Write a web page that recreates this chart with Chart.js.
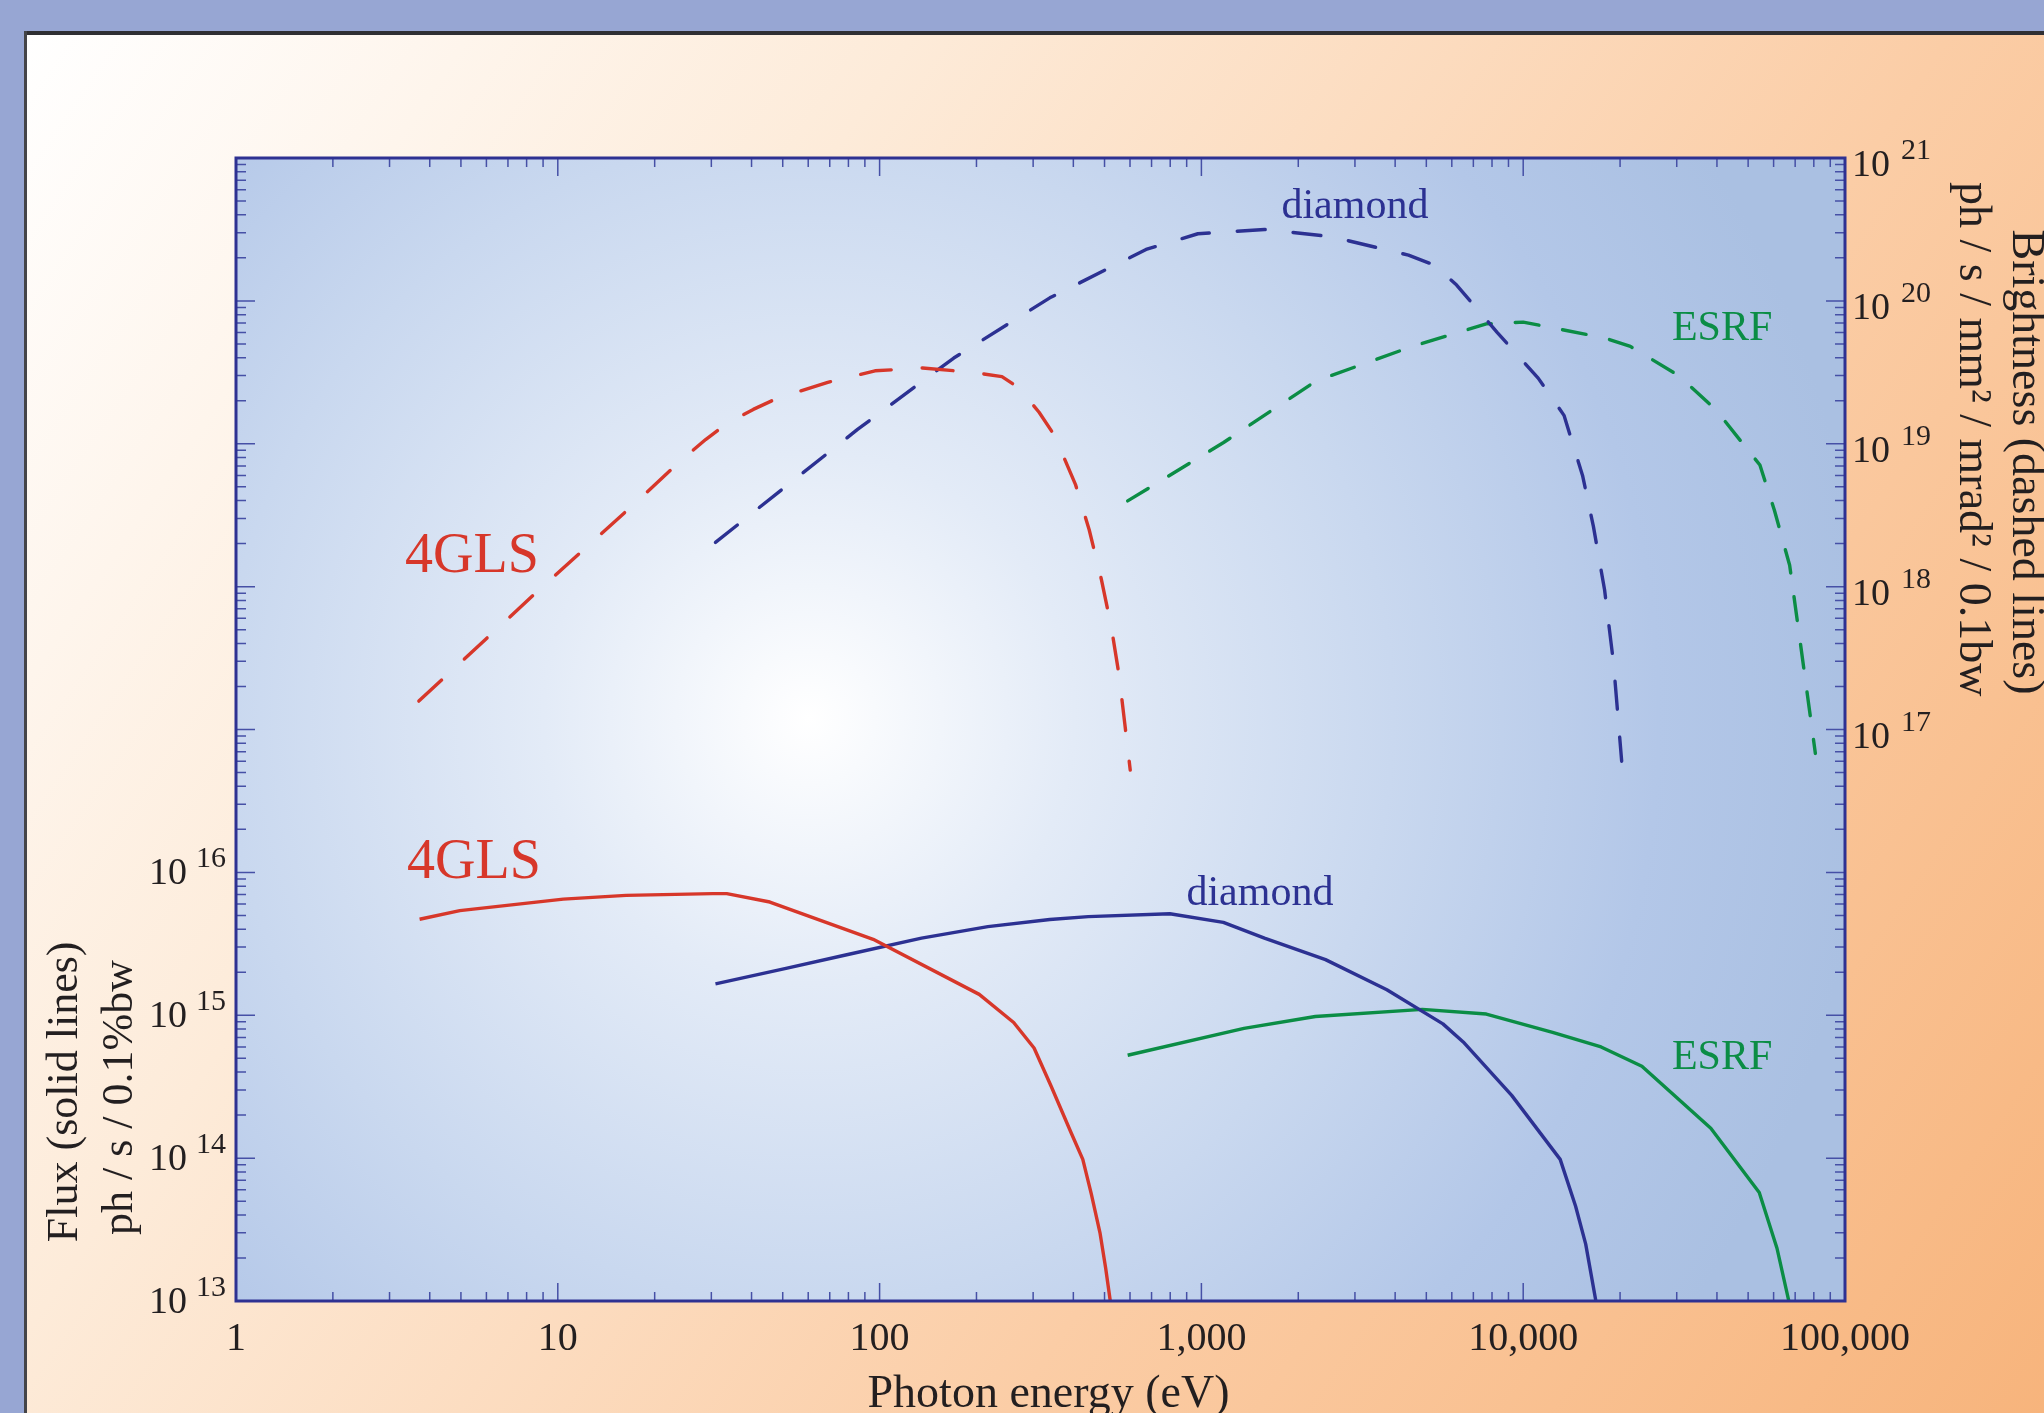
<!DOCTYPE html>
<html>
<head>
<meta charset="utf-8">
<script src="https://cdn.jsdelivr.net/npm/chart.js@4.4.1/dist/chart.umd.min.js"></script>
<style>
  html, body { margin: 0; padding: 0; background: #97a6d3; }
  canvas { display: block; }
</style>
</head>
<body>
<canvas id="c" width="2044" height="1413"></canvas>
<script>
// ---------- DATA ----------
// Photon energy (eV) and values for each curve
const gls4FluxE   = [3.72, 4.96, 10.4, 16.3, 30.3, 33.5, 45.6, 95.5, 204, 261, 302, 341, 394, 428, 455, 484, 504, 521];
const gls4Flux    = [4.7e15, 5.4e15, 6.5e15, 6.9e15, 7.1e15, 7.1e15, 6.2e15, 3.4e15, 1.4e15, 8.9e14, 5.9e14, 3.2e14, 1.5e14, 9.8e13, 5.6e13, 3.0e13, 1.7e13, 1.0e13];

const diamondFluxE = [30.9, 51.6, 77.8, 135, 217, 338, 445, 798, 1170, 1570, 2430, 3770, 5630, 6510, 9210, 13030, 14550, 15640, 16820];
const diamondFlux  = [1.66e15, 2.14e15, 2.63e15, 3.47e15, 4.17e15, 4.68e15, 4.9e15, 5.13e15, 4.47e15, 3.47e15, 2.45e15, 1.51e15, 8.7e14, 6.5e14, 2.75e14, 9.8e13, 4.6e13, 2.5e13, 1.0e13];

const esrfFluxE = [590, 1356, 2260, 4860, 7680, 12340, 17460, 23380, 38280, 54140, 61470, 66900];
const esrfFlux  = [5.25e14, 8.1e14, 9.8e14, 1.1e15, 1.02e15, 7.6e14, 6.0e14, 4.4e14, 1.62e14, 5.75e13, 2.34e13, 1.0e13];

const gls4BrightE = [3.70, 6.24, 8.75, 12.3, 17.3, 24.4, 28.8, 33.9, 40.5, 48.3, 69, 96.8, 136, 194, 240, 272, 313, 349, 406, 448, 489, 525, 554, 578, 601];
const gls4Bright  = [1.58e17, 4.7e17, 9.5e17, 1.9e18, 3.8e18, 7.8e18, 1.07e19, 1.41e19, 1.74e19, 2.09e19, 2.69e19, 3.24e19, 3.39e19, 3.16e19, 2.95e19, 2.45e19, 1.66e19, 1.15e19, 5.2e18, 2.5e18, 1.12e18, 5.2e17, 2.45e17, 1.1e17, 5.2e16];

const diamondBrightE = [30.9, 85.4, 170, 338, 673, 975, 1570, 2525, 4400, 5300, 6210, 8310, 11130, 13390, 15290, 16530, 17900, 19090, 20230];
const diamondBright  = [2.04e18, 1.26e19, 3.98e19, 1.05e20, 2.29e20, 2.95e20, 3.16e20, 2.82e20, 2.09e20, 1.78e20, 1.29e20, 6.0e19, 2.88e19, 1.58e19, 6.0e18, 2.63e18, 9.5e17, 2.9e17, 6.0e16];

const esrfBrightE = [590, 1172, 2271, 4521, 7677, 10000, 17900, 21540, 30400, 39600, 54400, 60400, 67300, 72800, 80900];
const esrfBright  = [3.98e18, 1.02e19, 2.75e19, 4.8e19, 6.9e19, 7.1e19, 5.5e19, 4.8e19, 3.0e19, 1.74e19, 7.1e18, 3.4e18, 1.41e18, 3.9e17, 6.8e16];

// tick labels
const xTickValues = [1, 10, 100, 1000, 10000, 100000];
const xTickLabels = ['1', '10', '100', '1,000', '10,000', '100,000'];
const yLeftExps   = [13, 14, 15, 16];
const yRightExps  = [17, 18, 19, 20, 21];

// curve annotations: text and anchor (energy, value) in data units
const labelTexts  = ['4GLS', '4GLS', 'diamond', 'diamond', 'ESRF', 'ESRF'];
const labelEnergy = [5.41, 5.49, 3000, 1520, 41500, 41500];
const labelValue  = [1.26e18, 9.1e15, 3.8e20, 5.9e15, 5.3e19, 4.2e14];
// ---------- END DATA ----------

const RED = '#d7372a', BLUE = '#2c3192', GREEN = '#0b8d45';
const SERIF = '"Liberation Serif", "DejaVu Serif", serif';
const TXT = '#231f20';

function pts(xs, ys) { return xs.map((x, i) => ({ x: x, y: ys[i] })); }

const bgPlugin = {
  id: 'bg',
  beforeDraw(chart) {
    const { ctx, chartArea: a, width, height } = chart;
    ctx.save();
    ctx.fillStyle = '#97a6d3';
    ctx.fillRect(0, 0, width, height);
    const g = ctx.createLinearGradient(26, 33, width, height);
    g.addColorStop(0, '#ffffff');
    g.addColorStop(0.3, '#fdebd9');
    g.addColorStop(0.65, '#fbcda6');
    g.addColorStop(1, '#f7b47c');
    ctx.fillStyle = g;
    ctx.fillRect(26, 33, width - 26, height - 33);
    ctx.fillStyle = '#2f2f33';
    ctx.fillRect(24, 31, width - 24, 4);
    ctx.fillStyle = '#444448';
    ctx.fillRect(24, 31, 3, height - 31);
    // plot area radial gradient
    const w = a.right - a.left, h = a.bottom - a.top;
    const cx = a.left + w * 0.356, cy = a.top + h * 0.49;
    const rg = ctx.createRadialGradient(cx, cy, 0, cx, cy, w * 0.66);
    rg.addColorStop(0, '#ffffff');
    rg.addColorStop(0.25, '#e3ebf7');
    rg.addColorStop(0.55, '#c9d8ef');
    rg.addColorStop(0.8, '#b3c7e8');
    rg.addColorStop(1, '#aac0e2');
    ctx.fillStyle = rg;
    ctx.fillRect(a.left, a.top, w, h);
    ctx.restore();
  }
};

const axesPlugin = {
  id: 'axesDeco',
  afterDraw(chart) {
    const { ctx, chartArea: a } = chart;
    const xs = chart.scales.x, ys = chart.scales.y;
    ctx.save();
    // ticks (inward)
    ctx.strokeStyle = '#4650a6';
    ctx.lineWidth = 1.5;
    ctx.beginPath();
    for (let d = 0; d < xTickValues.length; d++) {
      const v = xTickValues[d];
      const px = xs.getPixelForValue(v);
      ctx.moveTo(px, a.bottom); ctx.lineTo(px, a.bottom - 18);
      ctx.moveTo(px, a.top); ctx.lineTo(px, a.top + 18);
      if (d < xTickValues.length - 1) {
        for (let m = 2; m <= 9; m++) {
          const p = xs.getPixelForValue(m * v);
          ctx.moveTo(p, a.bottom); ctx.lineTo(p, a.bottom - 9);
          ctx.moveTo(p, a.top); ctx.lineTo(p, a.top + 9);
        }
      }
    }
    const allExps = yLeftExps.concat(yRightExps);
    for (let i = 0; i < allExps.length; i++) {
      const v = Math.pow(10, allExps[i]);
      const py = ys.getPixelForValue(v);
      ctx.moveTo(a.left, py); ctx.lineTo(a.left + 19, py);
      ctx.moveTo(a.right, py); ctx.lineTo(a.right - 19, py);
      if (i < allExps.length - 1) {
        for (let m = 2; m <= 9; m++) {
          const p = ys.getPixelForValue(m * v);
          ctx.moveTo(a.left, p); ctx.lineTo(a.left + 10, p);
          ctx.moveTo(a.right, p); ctx.lineTo(a.right - 10, p);
        }
      }
    }
    ctx.stroke();
    // frame
    ctx.strokeStyle = '#2e3192';
    ctx.lineWidth = 3;
    ctx.strokeRect(a.left, a.top, a.right - a.left, a.bottom - a.top);

    // x tick labels
    ctx.fillStyle = TXT;
    ctx.font = '40px ' + SERIF;
    ctx.textAlign = 'center';
    ctx.textBaseline = 'alphabetic';
    xTickValues.forEach((v, i) => {
      ctx.fillText(xTickLabels[i], xs.getPixelForValue(v), a.bottom + 49);
    });

    // y tick labels (10 with superscript exponent)
    const mainFont = '38px ' + SERIF, supFont = '30px ' + SERIF;
    yLeftExps.forEach(e => {
      const py = ys.getPixelForValue(Math.pow(10, e));
      const s = String(e);
      ctx.font = supFont;
      const sw = ctx.measureText(s).width;
      ctx.textAlign = 'left';
      const sx = a.left - 10 - sw;
      ctx.fillText(s, sx, py - 5);
      ctx.font = mainFont;
      ctx.textAlign = 'right';
      ctx.fillText('10', sx - 9, py + 12);
    });
    yRightExps.forEach(e => {
      const py = ys.getPixelForValue(Math.pow(10, e));
      ctx.font = mainFont;
      ctx.textAlign = 'left';
      const mx = a.right + 7;
      ctx.fillText('10', mx, py + 18);
      const mw = ctx.measureText('10').width;
      ctx.font = supFont;
      ctx.fillText(String(e), mx + mw + 11, py + 1);
    });

    // axis titles
    ctx.font = '46px ' + SERIF;
    ctx.textAlign = 'center';
    ctx.fillText('Photon energy (eV)', (a.left + a.right) / 2 + 8, a.bottom + 106);

    ctx.font = '44px ' + SERIF;
    ctx.save();
    ctx.translate(77, a.top + (a.bottom - a.top) * 0.817);
    ctx.rotate(-Math.PI / 2);
    ctx.fillText('Flux (solid lines)', 0, 0);
    ctx.restore();
    ctx.save();
    ctx.translate(132, a.top + (a.bottom - a.top) * 0.822);
    ctx.rotate(-Math.PI / 2);
    ctx.fillText('ph / s / 0.1%bw', 0, 0);
    ctx.restore();

    ctx.font = '46px ' + SERIF;
    ctx.save();
    ctx.translate(2013, a.top + (a.bottom - a.top) * 0.266);
    ctx.rotate(Math.PI / 2);
    ctx.fillText('Brightness (dashed lines)', 0, 0);
    ctx.restore();
    ctx.save();
    ctx.translate(1960, a.top + (a.bottom - a.top) * 0.246);
    ctx.rotate(Math.PI / 2);
    ctx.fillText('ph / s / mm\u00B2 / mrad\u00B2 / 0.1bw', 0, 0);
    ctx.restore();

    // curve annotations, positioned on data coordinates
    const colors = [RED, RED, BLUE, BLUE, GREEN, GREEN];
    const sizes = [56, 56, 42, 42, 42, 42];
    ctx.textAlign = 'center';
    labelTexts.forEach((t, i) => {
      ctx.font = sizes[i] + 'px ' + SERIF;
      ctx.fillStyle = colors[i];
      ctx.fillText(t, xs.getPixelForValue(labelEnergy[i]), ys.getPixelForValue(labelValue[i]));
    });
    ctx.restore();
  }
};

function ds(xs, ys, color, dash) {
  return {
    data: pts(xs, ys),
    borderColor: color,
    borderWidth: 3.4,
    borderDash: dash || [],
    borderCapStyle: dash ? 'round' : 'butt',
    borderJoinStyle: 'round',
    pointRadius: 0,
    tension: 0,
    fill: false
  };
}

new Chart(document.getElementById('c'), {
  type: 'line',
  data: {
    datasets: [
      ds(gls4BrightE, gls4Bright, RED, [31, 31]),
      ds(diamondBrightE, diamondBright, BLUE, [28, 28]),
      ds(esrfBrightE, esrfBright, GREEN, [24, 24]),
      ds(gls4FluxE, gls4Flux, RED, null),
      ds(diamondFluxE, diamondFlux, BLUE, null),
      ds(esrfFluxE, esrfFlux, GREEN, null)
    ]
  },
  options: {
    responsive: false,
    animation: false,
    devicePixelRatio: 1,
    layout: { padding: { left: 236, right: 199, top: 158, bottom: 112 } },
    plugins: { legend: { display: false }, tooltip: { enabled: false } },
    scales: {
      x: { type: 'logarithmic', min: 1, max: 100000, display: false },
      y: { type: 'logarithmic', min: 1e13, max: 1e21, display: false }
    }
  },
  plugins: [bgPlugin, axesPlugin]
});
</script>
</body>
</html>
